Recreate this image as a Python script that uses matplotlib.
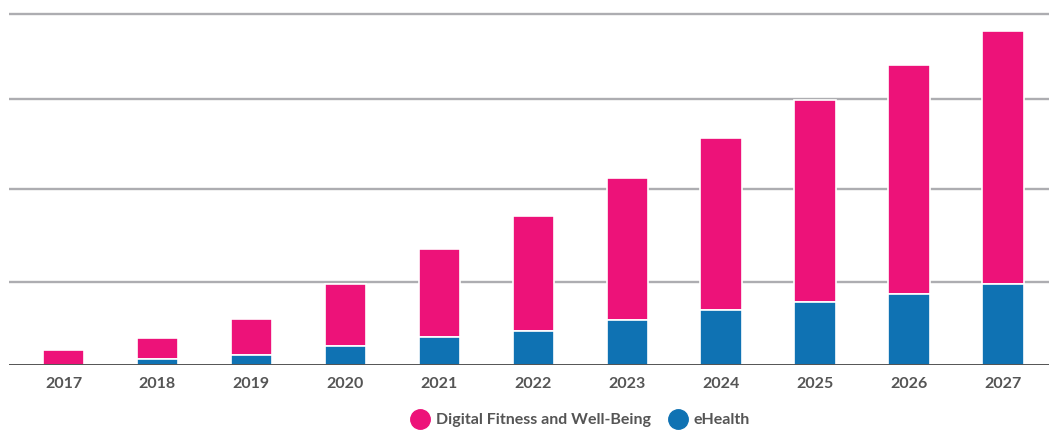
import matplotlib.pyplot as plt
import numpy as np

# values (arbitrary units, no y labels shown)
years = ['2017', '2018', '2019', '2020', '2021', '2022',
         '2023', '2024', '2025', '2026', '2027']
ehealth = [0, 6, 10, 19, 28, 34, 45, 55, 63, 71, 81]
totals = [15, 27, 46, 81, 116, 149, 187, 227, 265, 300, 334]
fitness = [t - e for t, e in zip(totals, ehealth)]
grid_levels = [83, 176, 266, 351]

pink = '#ED1279'
blue = '#0F72B3'
label_grey = '#555555'

plt.rcParams['font.family'] = ['Lato', 'DejaVu Sans']

fig = plt.figure(figsize=(10.49, 4.32), dpi=100)
ax = fig.add_axes([9 / 1049, 67 / 432, 1 - 9 / 1049, 365 / 432])

x = np.arange(len(years))
w = 0.44
ax.bar(x, fitness, w, bottom=ehealth, color=pink, edgecolor='white',
       linewidth=1.2, zorder=3, label='Digital Fitness and Well-Being')
ax.bar(x, ehealth, w, color=blue, edgecolor='white', linewidth=1.2,
       zorder=3, label='eHealth')

# grid lines
for g in grid_levels:
    ax.axhline(g, color='#adadb1', linewidth=1.7, zorder=1)
ax.axhline(0, color='#444444', linewidth=2.0, zorder=4)

ax.set_xlim(-0.58, 10.49)
ax.set_ylim(0, 365)
ax.set_xticks(x)
ax.set_xticklabels(years, fontsize=11.5, fontweight='bold', color=label_grey)
ax.tick_params(axis='x', length=0, pad=9)
ax.set_yticks([])
for s in ax.spines.values():
    s.set_visible(False)

handles = [plt.Line2D([], [], marker='o', linestyle='', markersize=14,
                      color=c) for c in (pink, blue)]
fig.legend(handles, ['Digital Fitness and Well-Being', 'eHealth'],
           loc='center', bbox_to_anchor=(580 / 1049, 12 / 432), ncol=2,
           frameon=False, handletextpad=0.4, columnspacing=1.1,
           handlelength=1.2,
           prop={'family': 'Lato', 'weight': 'bold', 'size': 11.5})
for t in fig.legends[0].get_texts():
    t.set_color(label_grey)

fig.savefig('out.png', dpi=100)
